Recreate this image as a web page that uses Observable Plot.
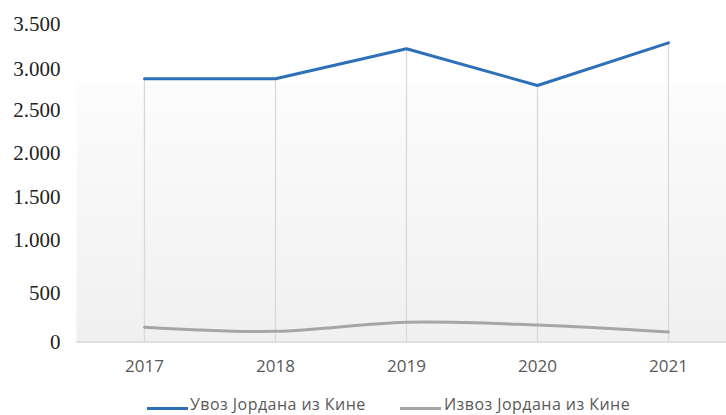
<!DOCTYPE html>
<html>
<head>
<meta charset="utf-8">
<script src="https://cdn.jsdelivr.net/npm/d3@7"></script>
<script src="https://cdn.jsdelivr.net/npm/@observablehq/plot@0.6"></script>
<style>
  html, body { margin: 0; padding: 0; background: #fff; overflow: hidden; }
  body { position: relative; width: 726px; height: 415px; }
  #legend { position: absolute; left: 0; top: 390px; width: 726px; height: 25px;
    font-family: "Open Sans", sans-serif; font-size: 16px; color: #595959; white-space: nowrap; }
  #legend .sw { position: absolute; top: 16.5px; height: 3px; width: 41px; }
  #legend .lbl { position: absolute; top: 2.9px; line-height: normal; letter-spacing: 0.45px; }
</style>
</head>
<body>
<div id="chart"></div>
<div id="legend"></div>
<script>
const years = ["2017", "2018", "2019", "2020", "2021"];
const importsFromChina = [2880, 2880, 3226, 2800, 3293];
const exportsToChina = [153, 110, 204, 175, 103];
const seriesNames = ["Увоз Јордана из Кине", "Извоз Јордана из Кине"];
const seriesColors = ["#2e70b8", "#a6a6a6"];
const yTicks = [0, 500, 1000, 1500, 2000, 2500, 3000, 3500];
const yTickPositions = [341.5, 293, 240, 196.7, 153, 110, 68.3, 24];

const rows = years.map((y, i) => ({year: y, imp: importsFromChina[i], exp: exportsToChina[i]}));

const W = 726, H = 390;
const svg = Plot.plot({
  width: W,
  height: H,
  marginLeft: 76,
  marginRight: 0,
  marginTop: 84,
  marginBottom: H - 342,
  style: {background: "transparent", overflow: "visible"},
  x: {type: "point", domain: years, range: [143.5, 669], padding: 0, label: null},
  y: {type: "linear", domain: yTicks, range: yTickPositions, label: null},
  marks: [
    Plot.frame({fill: "url(#bgGrad)", stroke: "none"}),
    Plot.ruleX(rows, {x: "year", y1: 0, y2: "imp", stroke: "#d9d9d9", strokeWidth: 1.3}),
    Plot.ruleY([0], {stroke: "#d9d9d9", strokeWidth: 1.5}),
    Plot.line(rows, {x: "year", y: "exp", stroke: seriesColors[1], strokeWidth: 3, curve: "catmull-rom", strokeLinejoin: "round"}),
    Plot.line(rows, {x: "year", y: "imp", stroke: seriesColors[0], strokeWidth: 3, strokeLinejoin: "miter"}),
    Plot.axisY({ticks: yTicks, tickSize: 0, tickPadding: 16, tickFormat: d => d3.format(",")(d).replace(/,/g, "."),
      fontFamily: "Liberation Serif", fontSize: 21, fill: "#222", label: null}),
    Plot.axisX({tickSize: 0, tickPadding: 17, fontFamily: "Open Sans", fontSize: 17, fill: "#595959", label: null})
  ]
});

const ns = "http://www.w3.org/2000/svg";
const defs = document.createElementNS(ns, "defs");
const grad = document.createElementNS(ns, "linearGradient");
grad.setAttribute("id", "bgGrad");
grad.setAttribute("x1", "0"); grad.setAttribute("y1", "0");
grad.setAttribute("x2", "0"); grad.setAttribute("y2", "1");
[["0", "#fcfcfc"], ["1", "#f0f0f0"]].forEach(([o, c]) => {
  const s = document.createElementNS(ns, "stop");
  s.setAttribute("offset", o); s.setAttribute("stop-color", c);
  grad.appendChild(s);
});
defs.appendChild(grad);
svg.insertBefore(defs, svg.firstChild);
document.getElementById("chart").appendChild(svg);

const legend = document.getElementById("legend");
const swatchLeft = [147, 400];
const textLeft = [190, 444];
seriesNames.forEach((name, i) => {
  const sw = document.createElement("div");
  sw.className = "sw";
  sw.style.left = swatchLeft[i] + "px";
  sw.style.background = seriesColors[i];
  legend.appendChild(sw);
  const lbl = document.createElement("span");
  lbl.className = "lbl";
  lbl.style.left = textLeft[i] + "px";
  lbl.textContent = name;
  legend.appendChild(lbl);
});
</script>
</body>
</html>
